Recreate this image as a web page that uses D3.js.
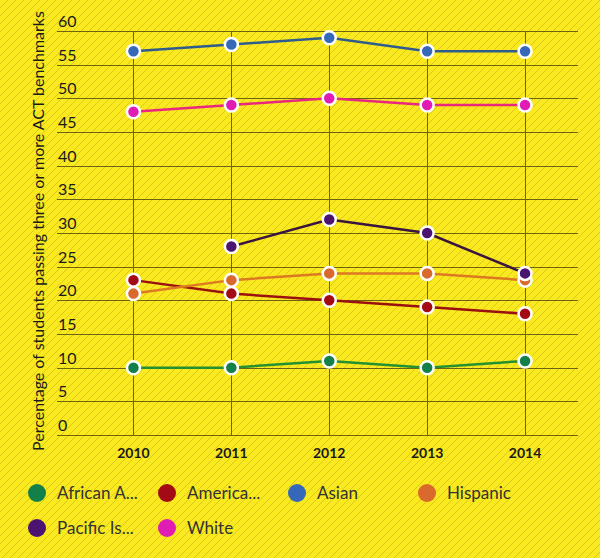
<!DOCTYPE html>
<html><head><meta charset="utf-8">
<script src="https://cdn.jsdelivr.net/npm/d3@7"></script>
<style>body{margin:0;background:#f8e71c}svg{display:block}</style>
</head><body>
<svg id="c" width="600" height="558"></svg>
<script>
const years = ["2010","2011","2012","2013","2014"];
const seriesNames = ["African American","American Indian","Asian","Hispanic","Pacific Islander","White"];
const legendLabels = ["African A...","America...","Asian","Hispanic","Pacific Is...","White"];
const africanAmerican = [10,10,11,10,11];
const americanIndian = [23,21,20,19,18];
const asian = [57,58,59,57,57];
const hispanic = [21,23,24,24,23];
const pacificIslander = [null,28,32,30,24];
const white = [48,49,50,49,49];
const yTicks = [0,5,10,15,20,25,30,35,40,45,50,55,60];
const markerColors = ["#13804a","#a30a14","#3568b8","#d9692c","#4a1470","#e01cb4"];
const lineColors = ["#23912f","#9a1010","#2f5c8c","#dc7a22","#3a1440","#e8287e"];
const allValues = [africanAmerican,americanIndian,asian,hispanic,pacificIslander,white];

const svg = d3.select("#c");
const defs = svg.append("defs");
const pat = defs.append("pattern").attr("id","hatch").attr("patternUnits","userSpaceOnUse")
  .attr("width",8).attr("height",8);
pat.append("rect").attr("width",8).attr("height",8).attr("fill","#f9e91e");
pat.append("path").attr("d","M-2,2 L2,-2 M0,8 L8,0 M6,10 L10,6").attr("stroke","#d6c61c").attr("stroke-width",0.9);
svg.append("rect").attr("width",600).attr("height",558).attr("fill","url(#hatch)");

const x = d3.scalePoint().domain(years).range([84.5,574]).padding(0.5);
const y = d3.scaleLinear().domain([0,60]).range([435,31]);
const gridLeft = 57, gridRight = 578;
const font = "'Lato','Open Sans',sans-serif";

const g = svg.append("g");
g.selectAll("line.h").data(yTicks).join("line").attr("class","h")
  .attr("x1",gridLeft).attr("x2",gridRight)
  .attr("y1",d=>Math.round(y(d))+0.5).attr("y2",d=>Math.round(y(d))+0.5)
  .attr("stroke","#6e6410").attr("stroke-width",1);
g.selectAll("line.v").data(years).join("line").attr("class","v")
  .attr("x1",d=>Math.round(x(d))+0.5).attr("x2",d=>Math.round(x(d))+0.5)
  .attr("y1",y(60)).attr("y2",y(0))
  .attr("stroke","#6e6410").attr("stroke-width",1);
g.selectAll("text.yt").data(yTicks).join("text").attr("class","yt")
  .attr("x",58).attr("y",d=>y(d)-4).text(d=>d)
  .attr("font-family",font).attr("font-size",16).attr("fill","#1a1a1a");
g.selectAll("text.xt").data(years).join("text").attr("class","xt")
  .attr("x",d=>x(d)).attr("y",458).attr("text-anchor","middle").text(d=>d)
  .attr("font-family",font).attr("font-size",14).attr("font-weight","bold").attr("fill","#1a1a1a");

svg.append("text").attr("transform","translate(44,231) rotate(-90)")
  .attr("text-anchor","middle").text("Percentage of students passing three or more ACT benchmarks")
  .attr("font-family",font).attr("font-size",16).attr("fill","#1a1a1a");

const line = d3.line().defined(d=>d.v!=null).x(d=>x(d.year)).y(d=>y(d.v)).curve(d3.curveCatmullRom.alpha(0.5));
allValues.forEach((vals,i)=>{
  const pts = years.map((yr,j)=>({year:yr,v:vals[j]}));
  svg.append("path").datum(pts).attr("d",line.curve(d3.curveLinear)).attr("fill","none")
    .attr("stroke",lineColors[i]).attr("stroke-width",2.5);
});
allValues.forEach((vals,i)=>{
  const pts = years.map((yr,j)=>({year:yr,v:vals[j]})).filter(d=>d.v!=null);
  svg.append("g").selectAll("circle").data(pts).join("circle")
    .attr("cx",d=>x(d.year)).attr("cy",d=>y(d.v)).attr("r",6.5)
    .attr("fill",markerColors[i]).attr("stroke","#fff").attr("stroke-width",2.5);
});

const lg = svg.append("g");
legendLabels.forEach((lab,i)=>{
  const col = i%4, row = Math.floor(i/4);
  const cx = 37 + col*130, cy = 493 + row*35;
  lg.append("circle").attr("cx",cx).attr("cy",cy).attr("r",9).attr("fill",markerColors[i]);
  lg.append("text").attr("x",cx+20).attr("y",cy+6).text(lab)
    .attr("font-family",font).attr("font-size",17).attr("fill","#333");
});
</script>
</body></html>
